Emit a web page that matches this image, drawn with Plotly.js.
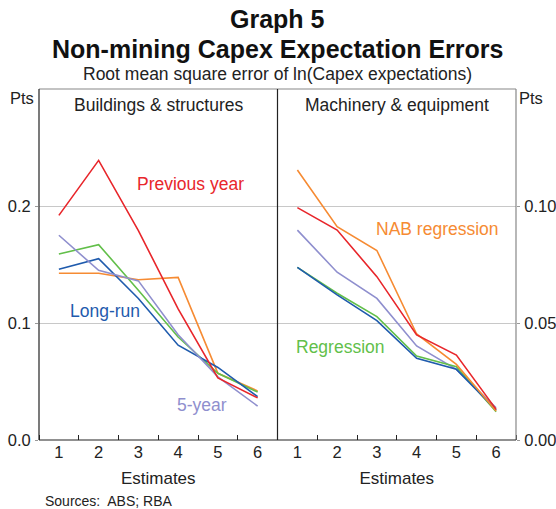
<!DOCTYPE html>
<html><head><meta charset="utf-8">
<script src="https://cdn.plot.ly/plotly-3.0.1.min.js"></script>
<style>body{margin:0;background:#fff}#c{width:556px;height:509px}</style>
</head><body><div id="c"></div>
<script>
const estimates = [1, 2, 3, 4, 5, 6];
// Buildings & structures
const bsPrevYear = [0.192, 0.239, 0.179, 0.112, 0.053, 0.036];
const bsNAB      = [0.1425, 0.1425, 0.137, 0.139, 0.057, 0.042];
const bsLongRun  = [0.146, 0.155, 0.121, 0.081, 0.062, 0.037];
const bsRegr     = [0.159, 0.167, 0.128, 0.088, 0.057, 0.041];
const bsFiveYear = [0.175, 0.145, 0.136, 0.090, 0.054, 0.029];
// Machinery & equipment
const mePrevYear = [0.0993, 0.0897, 0.0698, 0.0449, 0.0363, 0.0131];
const meNAB      = [0.1154, 0.0912, 0.0810, 0.0453, 0.0323, 0.0124];
const meLongRun  = [0.0738, 0.0620, 0.0510, 0.0349, 0.0302, 0.0128];
const meRegr     = [0.0738, 0.0627, 0.0527, 0.0359, 0.0313, 0.0121];
const meFiveYear = [0.0897, 0.0717, 0.0605, 0.0402, 0.0302, 0.0138];

const C = {red:'#e8262b', orange:'#f68b33', blue:'#1f5bad', green:'#62bf4a', purple:'#8f8fce'};
const font = 'Liberation Sans, Arial, sans-serif';
const TF = 16.5;

function tr(y, color, xa, ya){
  return {x: estimates, y: y, type:'scatter', mode:'lines', line:{color:color, width:1.6}, xaxis:xa, yaxis:ya, hoverinfo:'skip', showlegend:false};
}
const data = [
  tr(bsNAB, C.orange, 'x', 'y'), tr(bsRegr, C.green, 'x', 'y'), tr(bsLongRun, C.blue, 'x', 'y'),
  tr(bsFiveYear, C.purple, 'x', 'y'), tr(bsPrevYear, C.red, 'x', 'y'),
  tr(meFiveYear, C.purple, 'x2', 'y2'), tr(meRegr, C.green, 'x2', 'y2'), tr(meLongRun, C.blue, 'x2', 'y2'),
  tr(meNAB, C.orange, 'x2', 'y2'), tr(mePrevYear, C.red, 'x2', 'y2')
];

const xCommon = {range:[0.5, 6.5], tickvals:estimates, ticks:'', showgrid:false, zeroline:false,
  tickfont:{family:font, size:TF, color:'#222'},
  minor:{tick0:0.5, dtick:1, ticks:'inside', ticklen:5, tickcolor:'#222', showgrid:false},
  title:{text:'Estimates', font:{family:font, size:17, color:'#222'}, standoff:12}};

const layout = {
  width:556, height:509,
  margin:{l:39, r:40, t:89, b:69},
  paper_bgcolor:'#fff', plot_bgcolor:'#fff',
  font:{family:font, color:'#222'},
  xaxis: Object.assign({}, xCommon, {domain:[0, 0.5], anchor:'y'}),
  xaxis2: Object.assign({}, xCommon, {domain:[0.5, 1], anchor:'y2'}),
  yaxis: {range:[0, 0.3], tickvals:[0, 0.1, 0.2], ticktext:['0.0','0.1','0.2'], ticks:'outside', ticklen:3, tickcolor:'#999', showgrid:true,
    gridcolor:'#c8c8c8', gridwidth:1, zeroline:false, anchor:'x', tickfont:{family:font, size:TF, color:'#222'}, ticklabelstandoff:1},
  yaxis2: {range:[0, 0.15], tickvals:[0, 0.05, 0.10], ticktext:['0.00','0.05','0.10'], ticks:'outside', ticklen:3, tickcolor:'#999', showgrid:true,
    gridcolor:'#c8c8c8', gridwidth:1, zeroline:false, anchor:'x2', side:'right', tickfont:{family:font, size:TF, color:'#222'}, ticklabelstandoff:1},
  shapes: [
    {type:'line', xref:'paper', yref:'paper', x0:0, x1:1, y0:1, y1:1, line:{color:'#888', width:1.2}},
    {type:'line', xref:'paper', yref:'paper', x0:1, x1:1, y0:0, y1:1, line:{color:'#888', width:1.2}},
    {type:'line', xref:'paper', yref:'paper', x0:0, x1:1, y0:0, y1:0, line:{color:'#222', width:1.2}},
    {type:'line', xref:'paper', yref:'paper', x0:0, x1:0, y0:0, y1:1, line:{color:'#222', width:1.2}},
    {type:'line', xref:'paper', yref:'paper', x0:0.5, x1:0.5, y0:0, y1:1, line:{color:'#222', width:1.2}}
  ],
  annotations: [
    {text:'<b>Graph 5</b>', xref:'paper', yref:'paper', x:0.5, y:1, xanchor:'center', yanchor:'middle', yshift:70, font:{family:font, size:25, color:'#111'}, showarrow:false},
    {text:'<b>Non-mining Capex Expectation Errors</b>', xref:'paper', yref:'paper', x:0.5, y:1, xanchor:'center', yanchor:'middle', yshift:40, font:{family:font, size:25, color:'#111'}, showarrow:false},
    {text:'Root mean square error of ln(Capex expectations)', xref:'paper', yref:'paper', x:0.5, y:1, xanchor:'center', yanchor:'middle', yshift:15, font:{family:font, size:17.5, color:'#222'}, showarrow:false},
    {text:'Buildings & structures', xref:'paper', yref:'paper', x:0.25, y:1, xanchor:'center', yanchor:'middle', yshift:-16, font:{family:font, size:17.5, color:'#222'}, showarrow:false},
    {text:'Machinery & equipment', xref:'paper', yref:'paper', x:0.75, y:1, xanchor:'center', yanchor:'middle', yshift:-16, font:{family:font, size:17.5, color:'#222'}, showarrow:false},
    {text:'Pts', xref:'paper', yref:'paper', x:0, y:1, xanchor:'right', yanchor:'middle', xshift:-3, yshift:-9, font:{family:font, size:TF, color:'#222'}, showarrow:false},
    {text:'Pts', xref:'paper', yref:'paper', x:1, y:1, xanchor:'left', yanchor:'middle', xshift:1, yshift:-9, font:{family:font, size:TF, color:'#222'}, showarrow:false},
    {text:'Previous year', xref:'x', yref:'y', x:2.98, y:0.219, xanchor:'left', yanchor:'middle', xshift:-3, font:{family:font, size:17.5, color:C.red}, showarrow:false},
    {text:'Long-run', xref:'x', yref:'y', x:1.3, y:0.110, xanchor:'left', yanchor:'middle', xshift:-3, font:{family:font, size:17.5, color:C.blue}, showarrow:false},
    {text:'5-year', xref:'x', yref:'y', x:4.0, y:0.030, xanchor:'left', yanchor:'middle', xshift:-3, font:{family:font, size:17.5, color:C.purple}, showarrow:false},
    {text:'NAB regression', xref:'x2', yref:'y2', x:3.0, y:0.0902, xanchor:'left', yanchor:'middle', xshift:-3, font:{family:font, size:17.5, color:C.orange}, showarrow:false},
    {text:'Regression', xref:'x2', yref:'y2', x:0.98, y:0.0397, xanchor:'left', yanchor:'middle', xshift:-3, font:{family:font, size:17.5, color:C.green}, showarrow:false},
    {text:'Sources:  ABS; RBA', xref:'paper', yref:'paper', x:0, y:0, xanchor:'left', yanchor:'middle', xshift:4, yshift:-61, font:{family:font, size:14, color:'#222'}, showarrow:false}
  ]
};
Plotly.newPlot('c', data, layout, {staticPlot:true, displayModeBar:false});
</script></body></html>
